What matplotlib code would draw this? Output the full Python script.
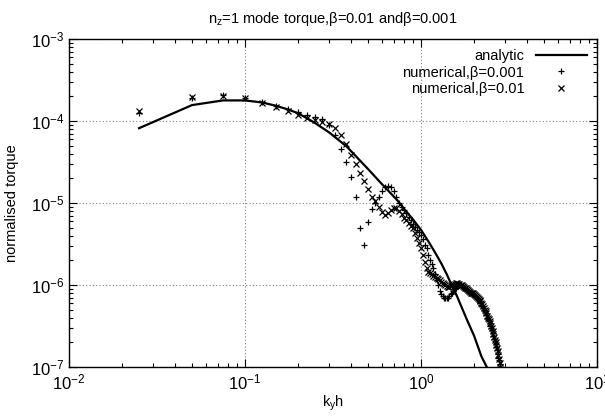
import matplotlib
matplotlib.use("Agg")
import matplotlib.pyplot as plt
from matplotlib.ticker import LogLocator, NullFormatter

plt.rcParams['font.family'] = ['Liberation Sans', 'DejaVu Sans']
plt.rcParams['mathtext.fontset'] = 'custom'
plt.rcParams['mathtext.rm'] = 'Liberation Sans'
plt.rcParams['mathtext.it'] = 'Liberation Sans'

# analytic curve
k_an = [0.025, 0.05, 0.075, 0.1, 0.125, 0.15, 0.175, 0.2, 0.244, 0.3, 0.378, 0.45,
        0.5, 0.585, 0.65, 0.728, 0.8, 0.9, 1.0, 1.12, 1.2, 1.3, 1.4, 1.49, 1.6,
        1.8, 2.0, 2.2, 2.36, 2.5]
t_an = [8.2e-5, 1.57e-4, 1.79e-4, 1.79e-4, 1.69e-4, 1.54e-4, 1.39e-4, 1.25e-4,
        9.8e-5, 7.3e-5, 4.9e-5, 3.3e-5, 2.6e-5, 1.8e-5, 1.42e-5, 1.1e-5, 8.5e-6,
        6.3e-6, 4.7e-6, 3.2e-6, 2.5e-6, 1.85e-6, 1.35e-6, 1.0e-6, 7.3e-7, 4.0e-7,
        2.4e-7, 1.35e-7, 1.0e-7, 7.0e-8]

# numerical runs, sampled every 0.025 in k_y h
k_num = [0.025, 0.05, 0.075, 0.1, 0.125, 0.15, 0.175, 0.2, 0.225, 0.25,
         0.275, 0.3, 0.325, 0.35, 0.375, 0.4, 0.425, 0.45, 0.475, 0.5,
         0.525, 0.55, 0.575, 0.6, 0.625, 0.65, 0.675, 0.7, 0.725, 0.75,
         0.775, 0.8, 0.825, 0.85, 0.875, 0.9, 0.925, 0.95, 0.975, 1.0,
         1.025, 1.05, 1.075, 1.1, 1.125, 1.15, 1.175, 1.2, 1.225, 1.25,
         1.275, 1.3, 1.325, 1.35, 1.375, 1.4, 1.425, 1.45, 1.475, 1.5,
         1.525, 1.55, 1.575, 1.6, 1.625, 1.65, 1.675, 1.7, 1.725, 1.75,
         1.775, 1.8, 1.825, 1.85, 1.875, 1.9, 1.925, 1.95, 1.975, 2.0,
         2.025, 2.05, 2.075, 2.1, 2.125, 2.15, 2.175, 2.2, 2.225, 2.25,
         2.275, 2.3, 2.325, 2.35, 2.375, 2.4, 2.425, 2.45, 2.475, 2.5,
         2.525, 2.55, 2.575, 2.6, 2.625, 2.65, 2.675, 2.7, 2.725, 2.75,
         2.775, 2.8, 2.825, 2.85, 2.875]

# numerical, beta = 0.001  (+)
t_b001 = [1.26e-4, 1.94e-4, 2.07e-4, 1.94e-4, 1.72e-4, 1.52e-4, 1.40e-4, 1.28e-4, 1.18e-4, 1.13e-4,
          1.05e-4, 9.0e-5, 6.8e-5, 4.6e-5, 3.2e-5, 2.1e-5, 1.2e-5, 5.0e-6, 3.1e-6, 5.8e-6,
          8.5e-6, 1.0e-5, 1.2e-5, 1.4e-5, 1.55e-5, 1.6e-5, 1.55e-5, 1.4e-5, 1.2e-5, 1.0e-5,
          9.0e-6, 8.2e-6, 7.5e-6, 6.8e-6, 6.2e-6, 5.6e-6, 5.1e-6, 4.7e-6, 4.4e-6, 4.1e-6,
          3.6e-6, 3.1e-6, 2.8e-6, 2.3e-6, 2.0e-6, 1.8e-6, 1.6e-6, 1.35e-6, 1.15e-6, 1.0e-6,
          8.5e-7, 7.8e-7, 7.3e-7, 7.0e-7, 6.9e-7, 6.9e-7, 7.0e-7, 7.3e-7, 7.7e-7, 8.1e-7,
          8.5e-7, 8.9e-7, 9.3e-7, 9.6e-7, 9.8e-7, 9.9e-7, 9.9e-7, 9.7e-7, 9.5e-7, 9.3e-7,
          9.1e-7, 8.9e-7, 8.7e-7, 8.5e-7, 8.3e-7, 8.1e-7, 7.9e-7, 7.8e-7, 7.7e-7, 7.5e-7,
          7.3e-7, 7.1e-7, 6.9e-7, 6.7e-7, 6.5e-7, 6.2e-7, 6.0e-7, 5.7e-7, 5.5e-7, 5.2e-7,
          5.0e-7, 4.8e-7, 4.5e-7, 4.3e-7, 4.0e-7, 3.8e-7, 3.6e-7, 3.4e-7, 3.2e-7, 3.0e-7,
          2.8e-7, 2.6e-7, 2.4e-7, 2.2e-7, 2.05e-7, 1.9e-7, 1.75e-7, 1.6e-7, 1.45e-7, 1.3e-7,
          1.2e-7, 1.08e-7, 9.8e-8, 8.8e-8, 8.0e-8]

# numerical, beta = 0.01  (x)
t_b01 = [1.32e-4, 1.98e-4, 2.05e-4, 1.90e-4, 1.68e-4, 1.48e-4, 1.34e-4, 1.20e-4, 1.10e-4, 1.03e-4,
         9.8e-5, 9.1e-5, 8.3e-5, 6.7e-5, 5.3e-5, 3.85e-5, 3.0e-5, 2.35e-5, 1.85e-5, 1.47e-5,
         1.2e-5, 1.05e-5, 9.0e-6, 7.8e-6, 7.1e-6, 7.5e-6, 8.3e-6, 8.8e-6, 8.6e-6, 8.0e-6,
         7.3e-6, 6.6e-6, 6.2e-6, 5.7e-6, 5.2e-6, 4.9e-6, 4.3e-6, 3.8e-6, 3.3e-6, 2.8e-6,
         2.3e-6, 1.9e-6, 1.6e-6, 1.45e-6, 1.4e-6, 1.36e-6, 1.3e-6, 1.26e-6, 1.22e-6, 1.18e-6,
         1.14e-6, 1.1e-6, 1.06e-6, 1.02e-6, 9.9e-7, 9.6e-7, 9.5e-7, 9.5e-7, 9.7e-7, 1.0e-6,
         1.02e-6, 1.04e-6, 1.05e-6, 1.05e-6, 1.04e-6, 1.03e-6, 1.01e-6, 9.9e-7, 9.7e-7, 9.5e-7,
         9.3e-7, 9.1e-7, 8.9e-7, 8.7e-7, 8.5e-7, 8.3e-7, 8.1e-7, 8.0e-7, 7.9e-7, 7.8e-7,
         7.6e-7, 7.4e-7, 7.2e-7, 7.0e-7, 6.8e-7, 6.5e-7, 6.3e-7, 6.0e-7, 5.8e-7, 5.5e-7,
         5.3e-7, 5.0e-7, 4.8e-7, 4.5e-7, 4.2e-7, 4.0e-7, 3.8e-7, 3.6e-7, 3.4e-7, 3.2e-7,
         2.95e-7, 2.75e-7, 2.55e-7, 2.35e-7, 2.15e-7, 2.0e-7, 1.85e-7, 1.7e-7, 1.55e-7, 1.4e-7,
         1.25e-7, 1.12e-7, 1.0e-7, 9.0e-8, 8.2e-8]

title = "n$_\\mathregular{z}$=1 mode torque,β=0.01 andβ=0.001"
xlabel = "k$_\\mathregular{y}$h"
ylabel = "normalised torque"

fig = plt.figure(figsize=(6.05, 4.17), dpi=100)
ax = fig.add_axes([0.114, 0.12, 0.873, 0.786])

ax.plot(k_an, t_an, color='black', lw=1.6, label='analytic', zorder=3)
ax.plot(k_num, t_b001, ls='none', marker='+', ms=5, mew=0.9, color='black',
        label='numerical,β=0.001', zorder=4)
ax.plot(k_num, t_b01, ls='none', marker='x', ms=4.5, mew=0.9, color='black',
        label='numerical,β=0.01', zorder=4)

ax.set_xscale('log')
ax.set_yscale('log')
ax.set_xlim(0.01, 10)
ax.set_ylim(1e-7, 1e-3)

ax.xaxis.set_major_locator(LogLocator(base=10, numticks=10))
ax.yaxis.set_major_locator(LogLocator(base=10, numticks=10))
ax.xaxis.set_minor_locator(LogLocator(base=10, subs=range(2, 10), numticks=20))
ax.yaxis.set_minor_locator(LogLocator(base=10, subs=range(2, 10), numticks=20))
ax.xaxis.set_minor_formatter(NullFormatter())
ax.yaxis.set_minor_formatter(NullFormatter())

ax.tick_params(which='both', direction='in', top=True, right=True, labelsize=12)
ax.tick_params(which='major', length=6, width=0.8)
ax.tick_params(which='minor', length=3, width=0.8)
ax.tick_params(axis='x', pad=4)
ax.grid(True, which='major', ls=(0, (1, 2)), color='#808080', lw=0.8)
for s in ax.spines.values():
    s.set_linewidth(1.0)

ax.set_title(title, fontsize=10.5, pad=12)
ax.set_xlabel(xlabel, fontsize=10.5, labelpad=1)
ax.set_ylabel(ylabel, fontsize=10.5, labelpad=8)

leg = ax.legend(loc='upper right', frameon=False, markerfirst=False, fontsize=10.5,
                handlelength=3.5, borderaxespad=0.3, labelspacing=0.15,
                handletextpad=0.8)
for t in leg.get_texts():
    t.set_ha('right')

fig.savefig('out.png', dpi=100)
